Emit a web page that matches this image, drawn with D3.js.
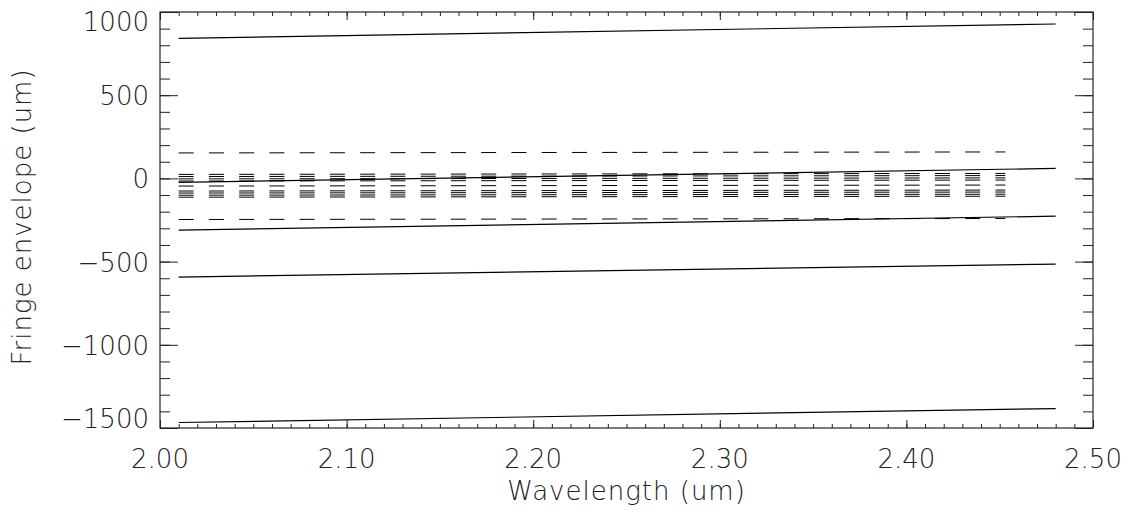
<!DOCTYPE html>
<html>
<head>
<meta charset="utf-8">
<script src="https://cdn.jsdelivr.net/npm/d3@7"></script>
<style>
  body { margin: 0; background: #fff; }
  text { font-family: "DejaVu Sans", sans-serif; font-weight: 200; fill: #222; }
</style>
</head>
<body>
<div id="app"></div>
<script>
// solid envelope lines (values at start / end wavelength)
const wavelength = [2.01, 2.48]
const envelopes = [
  [842, 928],
  [-24, 60],
  [-311, -227],
  [-593, -515],
  [-1467, -1383]
]

// dashed fringe lines
const fringeWavelength = [2.01, 2.453]
const fringes = [
  [153, 159],
  [24, 30], [11, 17], [-3, 3], [-16, -10],
  [-46, -40],
  [-76, -70], [-88, -82], [-101, -95], [-113, -107],
  [-247, -241]
]

const xTickValues = [2.0, 2.1, 2.2, 2.3, 2.4, 2.5]
const yTickValues = [-1500, -1000, -500, 0, 500, 1000]

var w = 1136
var h = 515
const padL = 160, padR = 1093, padT = 12, padB = 428

const svg = d3.select("#app")
  .append("svg")
  .attr("width", w)
  .attr("height", h)

const x = d3.scaleLinear().domain([2.0, 2.5]).range([padL, padR])
const y = d3.scaleLinear().domain([-1500, 1000]).range([padB, padT])

const xMinor = x.ticks(50)
const yMinor = y.ticks(25)

// tick marks, all pointing inward
function ticks(axis, vals, size, tx) {
  svg.append("g")
    .attr("transform", tx)
    .call(axis.tickValues(vals).tickSizeInner(-size).tickSizeOuter(0).tickFormat(""))
    .call(g => g.select(".domain").remove())
    .selectAll("line").attr("stroke", "#222")
}
ticks(d3.axisBottom(x), xMinor, 4, `translate(0,${padB})`)
ticks(d3.axisBottom(x), xTickValues, 8, `translate(0,${padB})`)
ticks(d3.axisTop(x), xMinor, 4, `translate(0,${padT})`)
ticks(d3.axisTop(x), xTickValues, 8, `translate(0,${padT})`)
ticks(d3.axisLeft(y), yMinor, 10, `translate(${padL},0)`)
ticks(d3.axisLeft(y), yTickValues, 18, `translate(${padL},0)`)
ticks(d3.axisRight(y), yMinor, 10, `translate(${padR},0)`)
ticks(d3.axisRight(y), yTickValues, 18, `translate(${padR},0)`)

svg.append("rect")
  .attr("x", padL).attr("y", padT)
  .attr("width", padR - padL).attr("height", padB - padT)
  .attr("fill", "none").attr("stroke", "#222").attr("stroke-width", 1.2)

// labels
svg.selectAll(".xlab")
  .data(xTickValues)
  .enter().append("text")
  .attr("x", d => x(d))
  .attr("y", 468)
  .attr("text-anchor", "middle")
  .style("font-size", "26px")
  .text(d => d3.format(".2f")(d))

svg.selectAll(".ylab")
  .data(yTickValues)
  .enter().append("text")
  .attr("x", 149)
  .attr("y", d => Math.min(Math.max(y(d) + 10, padT + 19), padB))
  .attr("text-anchor", "end")
  .style("font-size", "26px")
  .text(d => d < 0 ? "\u2212" + Math.abs(d) : d)

svg.append("text")
  .attr("x", (padL + padR) / 2)
  .attr("y", 500)
  .attr("text-anchor", "middle")
  .style("font-size", "26px")
  .style("letter-spacing", "1px")
  .text("Wavelength (um)")

svg.append("text")
  .attr("transform", "translate(31,217) rotate(-90)")
  .attr("text-anchor", "middle")
  .style("font-size", "26px")
  .style("letter-spacing", "1px")
  .text("Fringe envelope (um)")

const plot = svg.append("g")

const solidLine = d3.line()
  .x((d, i) => x(wavelength[i]))
  .y(d => y(d))

plot.selectAll(".env")
  .data(envelopes)
  .enter().append("path")
  .attr("d", solidLine)
  .attr("fill", "none")
  .attr("stroke", "#000")
  .attr("stroke-width", 1.2)

const dashLine = d3.line()
  .x((d, i) => x(fringeWavelength[i]))
  .y(d => y(d))

plot.selectAll(".fringe")
  .data(fringes)
  .enter().append("path")
  .attr("d", dashLine)
  .attr("fill", "none")
  .attr("stroke", "#000")
  .attr("stroke-width", 1)
  .attr("stroke-dasharray", "15,15.25")
</script>
</body>
</html>
